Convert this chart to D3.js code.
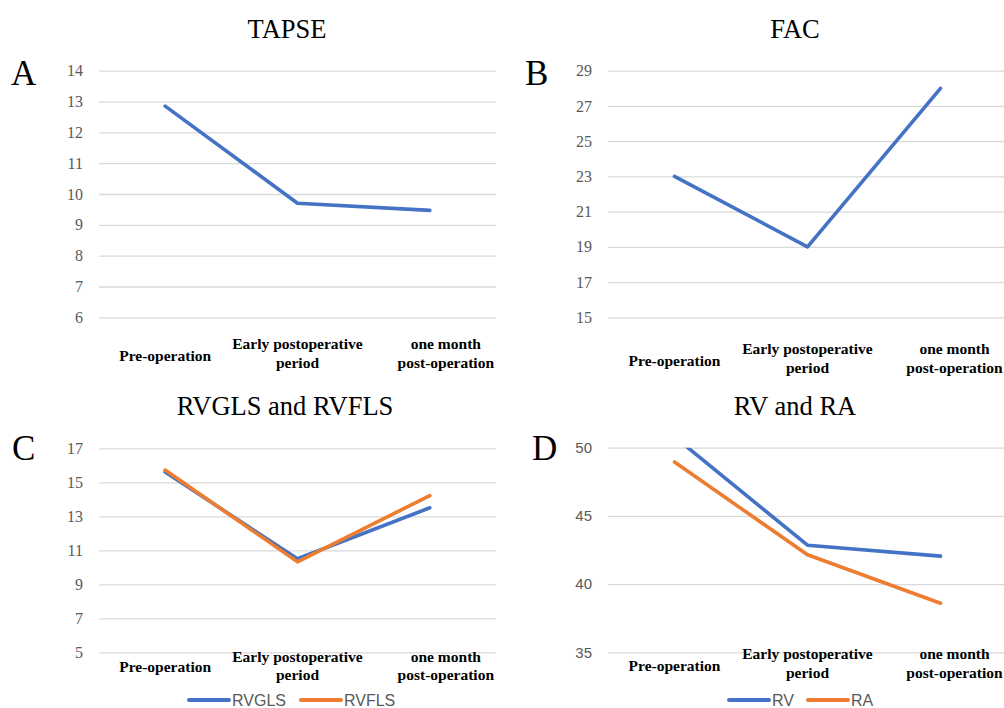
<!DOCTYPE html>
<html>
<head>
<meta charset="utf-8">
<script src="https://cdn.jsdelivr.net/npm/d3@7"></script>
<style>
  body { margin: 0; background: #fff; }
  svg { display: block; }
</style>
</head>
<body>
<div id="chart"></div>
<script>
// categories (wrapped as in the original)
const categories = ['Pre-operation', 'Early postoperative period', 'one month post-operation'];
const categoryLines = [['Pre-operation'], ['Early postoperative', 'period'], ['one month', 'post-operation']];

// series values
const tapse = [12.85, 9.7, 9.47];
const fac = [23, 19, 28];
const rvgls = [15.6, 10.5, 13.5];
const rvfls = [15.72, 10.32, 14.22];
const rv = [50.8, 42.85, 42.05];
const ra = [48.95, 42.15, 38.6];

// y tick labels
const tapseTicks = [6, 7, 8, 9, 10, 11, 12, 13, 14];
const facTicks = [15, 17, 19, 21, 23, 25, 27, 29];
const strainTicks = [5, 7, 9, 11, 13, 15, 17];
const volumeTicks = [35, 40, 45, 50];

const BLUE = '#4472C4';
const ORANGE = '#ED7D31';
const GRID = '#D9D9D9';
const TICK = '#595959';
const SERIF = '"Liberation Serif", "Times New Roman", serif';
const SANS = '"Liberation Sans", Arial, sans-serif';

const svg = d3.select('#chart').append('svg')
    .attr('width', 1004).attr('height', 708);

function drawPanel(p) {
    const g = svg.append('g');
    const x = d3.scalePoint().domain(categories).range(p.xRange).padding(0.5);
    const y = d3.scaleLinear().domain(d3.extent(p.ticks)).range(p.yRange);

    // title and panel letter
    g.append('text')
        .attr('x', p.titleX).attr('y', p.titleY)
        .attr('text-anchor', 'middle')
        .style('font-family', SERIF).style('font-size', '26.5px')
        .attr('fill', '#000').text(p.title);
    g.append('text')
        .attr('x', p.letterX).attr('y', p.letterY)
        .style('font-family', SERIF).style('font-size', '35px')
        .attr('fill', '#000').text(p.letter);

    // gridlines + tick labels
    const yAxis = g.append('g')
        .attr('transform', `translate(${p.xRange[0]},0)`)
        .call(d3.axisLeft(y).tickValues(p.ticks).tickSize(-(p.xRange[1] - p.xRange[0])).tickPadding(16));
    yAxis.select('.domain').remove();
    yAxis.selectAll('.tick line').attr('stroke', GRID).attr('stroke-width', 1.3);
    yAxis.selectAll('.tick text')
        .style('font-family', p.tickFont).style('font-size', p.tickSize)
        .attr('fill', TICK);

    // category labels
    categoryLines.forEach((lines, i) => {
        const t = g.append('text')
            .attr('text-anchor', 'middle')
            .style('font-family', SERIF).style('font-weight', 'bold').style('font-size', '15.5px')
            .attr('fill', '#000');
        const cx = x(categories[i]) + (i === 2 ? p.lastDx : 0);
        const base = y.range()[0];
        if (lines.length === 1) {
            t.append('tspan').attr('x', cx).attr('y', base + p.single).text(lines[0]);
        } else {
            lines.forEach((ln, j) => {
                t.append('tspan').attr('x', cx).attr('y', base + p.first + j * 18.5).text(ln);
            });
        }
    });

    // clip to plot area
    const clipId = 'clip-' + p.letter;
    svg.append('clipPath').attr('id', clipId)
        .append('rect')
        .attr('x', p.xRange[0]).attr('y', p.yRange[1])
        .attr('width', p.xRange[1] - p.xRange[0])
        .attr('height', p.yRange[0] - p.yRange[1]);

    const line = d3.line()
        .x((d, i) => x(categories[i]))
        .y(d => y(d));

    p.series.forEach(s => {
        g.append('path')
            .datum(s.values)
            .attr('clip-path', `url(#${clipId})`)
            .attr('fill', 'none')
            .attr('stroke', s.color)
            .attr('stroke-width', 3.6)
            .attr('stroke-linecap', 'round')
            .attr('stroke-linejoin', 'round')
            .attr('d', line);
    });

    // legend
    if (p.legend) {
        p.series.forEach((s, i) => {
            const lx = p.legend[i];
            g.append('line')
                .attr('x1', lx).attr('x2', lx + 40)
                .attr('y1', p.legendY).attr('y2', p.legendY)
                .attr('stroke', s.color).attr('stroke-width', 4)
                .attr('stroke-linecap', 'round');
            g.append('text')
                .attr('x', lx + 43).attr('y', p.legendY).attr('dy', '0.35em')
                .style('font-family', SANS).style('font-size', '16px')
                .attr('fill', TICK).text(s.name);
        });
    }
}

drawPanel({
    letter: 'A', title: 'TAPSE', titleX: 287, titleY: 38, letterX: 11, letterY: 84.5,
    xRange: [99, 496], yRange: [317.3, 70.7], ticks: tapseTicks,
    tickFont: SERIF, tickSize: '16px',
    single: 44, first: 32, lastDx: 16,
    series: [{ name: 'TAPSE', values: tapse, color: BLUE }]
});

drawPanel({
    letter: 'B', title: 'FAC', titleX: 795, titleY: 38, letterX: 525, letterY: 85,
    xRange: [608, 1007], yRange: [317.3, 70.7], ticks: facTicks,
    tickFont: SERIF, tickSize: '16px',
    single: 49, first: 37, lastDx: 14,
    series: [{ name: 'FAC', values: fac, color: BLUE }]
});

drawPanel({
    letter: 'C', title: 'RVGLS and RVFLS', titleX: 285, titleY: 415, letterX: 12, letterY: 459.5,
    xRange: [99, 496], yRange: [652.3, 448.3], ticks: strainTicks,
    tickFont: SERIF, tickSize: '16px',
    single: 20, first: 9.5, lastDx: 16,
    series: [
        { name: 'RVGLS', values: rvgls, color: BLUE },
        { name: 'RVFLS', values: rvfls, color: ORANGE }
    ],
    legend: [189, 301], legendY: 700
});

drawPanel({
    letter: 'D', title: 'RV and RA', titleX: 795, titleY: 415, letterX: 532, letterY: 459.5,
    xRange: [608, 1007], yRange: [652.3, 447.7], ticks: volumeTicks,
    tickFont: SANS, tickSize: '15px',
    single: 18.5, first: 7, lastDx: 14,
    series: [
        { name: 'RV', values: rv, color: BLUE },
        { name: 'RA', values: ra, color: ORANGE }
    ],
    legend: [729, 808], legendY: 700
});
</script>
</body>
</html>
